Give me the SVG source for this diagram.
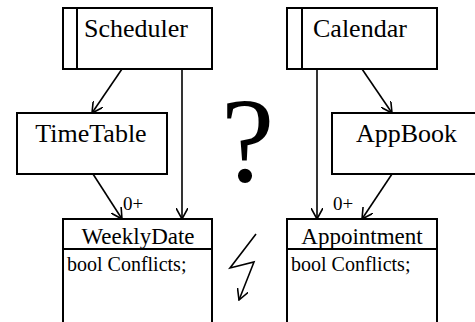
<svg xmlns="http://www.w3.org/2000/svg" width="475" height="322" viewBox="0 0 475 322">
<style>
.box{fill:#fff;stroke:#000;stroke-width:2}
.ln{fill:none;stroke:#000;stroke-width:1.6}
.t{font-size:26px}
.h{font-size:23px;text-anchor:middle}
.a{font-size:20px}
.m{font-size:19px}
</style>
<defs>
<marker id="ah" viewBox="0 0 12 12" refX="11" refY="6" markerWidth="12" markerHeight="12" markerUnits="userSpaceOnUse" orient="auto">
<path d="M0,0 L11,6 L0,12" fill="none" stroke="#000" stroke-width="1.6"/>
</marker>
</defs>
<rect width="475" height="322" fill="#fff"/>
<g font-family="Liberation Serif, DejaVu Serif, serif" fill="#000">
<g id="Scheduler">
<rect class="box" x="63" y="8" width="149" height="61"/>
<line class="ln" x1="77" y1="8" x2="77" y2="69" style="stroke-width:2"/>
<text class="t" x="84" y="37">Scheduler</text>
</g>
<g id="Calendar">
<rect class="box" x="287" y="8" width="150" height="61"/>
<line class="ln" x1="302" y1="8" x2="302" y2="69" style="stroke-width:2"/>
<text class="t" x="313" y="37">Calendar</text>
</g>
<g id="TimeTable">
<rect class="box" x="17" y="113" width="150" height="61"/>
<text class="t" x="91" y="142" text-anchor="middle">TimeTable</text>
</g>
<g id="AppBook">
<rect class="box" x="332" y="113" width="150" height="61"/>
<text class="t" x="356" y="142">AppBook</text>
</g>
<g id="WeeklyDate">
<rect class="box" x="63" y="219" width="149" height="112"/>
<line class="ln" x1="63" y1="249" x2="212" y2="249" style="stroke-width:2"/>
<text class="h" x="138" y="244">WeeklyDate</text>
<text class="a" x="67" y="271">bool Conflicts;</text>
</g>
<g id="Appointment">
<rect class="box" x="287" y="219" width="150" height="112"/>
<line class="ln" x1="287" y1="249" x2="437" y2="249" style="stroke-width:2"/>
<text class="h" x="362" y="244">Appointment</text>
<text class="a" x="291" y="271">bool Conflicts;</text>
</g>
<g id="connectors">
<line class="ln" x1="122" y1="69" x2="92" y2="113" marker-end="url(#ah)"/>
<line class="ln" x1="182" y1="69" x2="182" y2="219" marker-end="url(#ah)"/>
<line class="ln" x1="93" y1="174" x2="122" y2="219" marker-end="url(#ah)"/>
<line class="ln" x1="362" y1="69" x2="392" y2="113" marker-end="url(#ah)"/>
<line class="ln" x1="317" y1="69" x2="317" y2="219" marker-end="url(#ah)"/>
<line class="ln" x1="392" y1="174" x2="362" y2="219" marker-end="url(#ah)"/>
<text class="m" x="123" y="210">0+</text>
<text class="m" x="333" y="210">0+</text>
</g>
<g id="question">
<text x="221" y="181" font-size="120">?</text>
</g>
<g id="lightning">
<polyline class="ln" points="256,234 230,268 254,262 239,300" marker-end="url(#ah)"/>
</g>
</g>
</svg>
